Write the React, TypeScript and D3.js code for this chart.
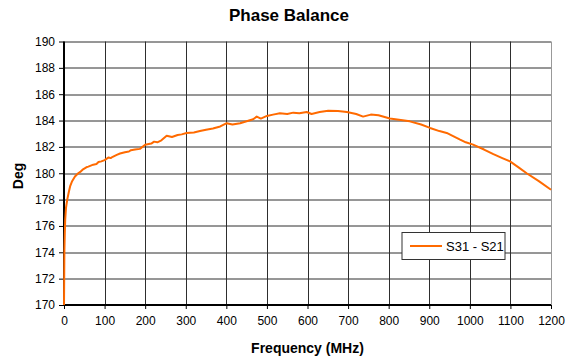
import React, { useRef, useEffect } from 'react';
import * as d3 from 'd3';

// frequency (MHz) and phase difference (deg)
const freqs = [0, 1, 2, 3, 5, 8, 12, 15, 20, 27, 35, 40, 47, 55, 60, 72, 80, 85, 92, 100, 110, 115, 120, 130, 138, 150, 160, 165, 175, 187, 200, 215, 222, 230, 240, 253, 266, 280, 290, 302, 320, 335, 350, 367, 385, 401, 415, 434, 450, 466, 475, 485, 500, 515, 532, 550, 565, 580, 598, 610, 630, 651, 675, 697, 720, 737, 756, 775, 803, 830, 852, 880, 902, 925, 943, 960, 976, 990, 1008, 1035, 1058, 1080, 1099, 1120, 1140, 1170, 1200];
const phase = [170, 174.2, 175.5, 176.5, 177.4, 178.0, 178.6, 179.0, 179.4, 179.75, 180.0, 180.1, 180.3, 180.45, 180.5, 180.65, 180.7, 180.85, 180.9, 181.0, 181.2, 181.15, 181.25, 181.4, 181.5, 181.6, 181.65, 181.75, 181.8, 181.85, 182.17, 182.25, 182.4, 182.35, 182.5, 182.85, 182.75, 182.9, 182.95, 183.05, 183.1, 183.2, 183.3, 183.4, 183.55, 183.8, 183.7, 183.8, 183.95, 184.1, 184.3, 184.15, 184.35, 184.45, 184.55, 184.5, 184.6, 184.55, 184.65, 184.5, 184.65, 184.75, 184.72, 184.65, 184.5, 184.3, 184.45, 184.4, 184.15, 184.05, 183.94, 183.7, 183.44, 183.2, 183.06, 182.8, 182.55, 182.35, 182.17, 181.8, 181.45, 181.15, 180.9, 180.45, 180.0, 179.4, 178.75];

const xTicks = [0, 100, 200, 300, 400, 500, 600, 700, 800, 900, 1000, 1100, 1200];
const yTicks = [170, 172, 174, 176, 178, 180, 182, 184, 186, 188, 190];
const seriesName = 'S31 - S21';

const W = 579;
const H = 364;
const margin = { top: 41.5, right: 28, bottom: 59, left: 64 };
const orange = '#ff6a00';
const font = '"Liberation Sans", Arial, sans-serif';

export default function App() {
  const svgRef = useRef<SVGSVGElement>(null);

  useEffect(() => {
    document.body.style.margin = '0';
    if (!svgRef.current) return;
    const svg = d3.select(svgRef.current);
    svg.selectAll('*').remove();

    const innerW = W - margin.left - margin.right;
    const innerH = H - margin.top - margin.bottom;

    const x = d3.scaleLinear().domain([0, 1200]).range([0, innerW]);
    const y = d3.scaleLinear().domain([170, 190]).range([innerH, 0]);

    svg.append('rect').attr('width', W).attr('height', H).attr('fill', '#fff');

    const g = svg.append('g').attr('transform', `translate(${margin.left},${margin.top})`);

    // grid
    g.append('g')
      .selectAll('line')
      .data(yTicks.slice(1))
      .enter()
      .append('line')
      .attr('x1', 0)
      .attr('x2', innerW)
      .attr('y1', d => Math.round(y(d)) + 0.5)
      .attr('y2', d => Math.round(y(d)) + 0.5)
      .attr('stroke', '#2e2e2e')
      .attr('stroke-width', 1);

    g.append('g')
      .selectAll('line')
      .data(xTicks.slice(1, -1))
      .enter()
      .append('line')
      .attr('x1', d => Math.round(x(d)) + 0.5)
      .attr('x2', d => Math.round(x(d)) + 0.5)
      .attr('y1', 0)
      .attr('y2', innerH)
      .attr('stroke', '#2e2e2e')
      .attr('stroke-width', 1);

    // right border
    g.append('line')
      .attr('x1', Math.round(innerW) + 0.5)
      .attr('x2', Math.round(innerW) + 0.5)
      .attr('y1', 0)
      .attr('y2', innerH)
      .attr('stroke', '#999')
      .attr('stroke-width', 1);

    // axes
    const yAxis = d3.axisLeft(y).tickValues(yTicks).tickSize(5).tickPadding(4).tickFormat(d => `${d}`);
    const xAxis = d3.axisBottom(x).tickValues(xTicks).tickSize(4).tickPadding(7).tickFormat(d => `${d}`);

    const ya = g.append('g').call(yAxis);
    const xa = g.append('g').attr('transform', `translate(0,${innerH})`).call(xAxis);
    [ya, xa].forEach(a => {
      a.select('.domain').remove();
      a.selectAll('.tick line').attr('stroke', '#000').attr('stroke-width', 1);
      a.selectAll('.tick text').attr('fill', '#000').style('font-family', font).style('font-size', '12px');
    });

    g.append('line')
      .attr('x1', 0).attr('x2', 0).attr('y1', 0).attr('y2', innerH + 1)
      .attr('stroke', '#000').attr('stroke-width', 2);
    g.append('line')
      .attr('x1', -1).attr('x2', innerW).attr('y1', innerH).attr('y2', innerH)
      .attr('stroke', '#000').attr('stroke-width', 2);

    // series
    const line = d3.line<number>()
      .x((_, i) => x(freqs[i]))
      .y(d => y(d));

    g.append('path')
      .datum(phase)
      .attr('fill', 'none')
      .attr('stroke', orange)
      .attr('stroke-width', 2)
      .attr('stroke-linejoin', 'round')
      .attr('d', line);

    // legend
    const lg = svg.append('g').attr('transform', 'translate(402,232.5)');
    lg.append('rect')
      .attr('width', 103)
      .attr('height', 27)
      .attr('fill', '#fff')
      .attr('stroke', '#333')
      .attr('stroke-width', 1);
    lg.append('line')
      .attr('x1', 8).attr('x2', 40).attr('y1', 13.5).attr('y2', 13.5)
      .attr('stroke', orange).attr('stroke-width', 2);
    lg.append('text')
      .attr('x', 44).attr('y', 18.5)
      .style('font-family', font).style('font-size', '13px')
      .text(seriesName);

    // titles
    svg.append('text')
      .attr('x', 289).attr('y', 21)
      .attr('text-anchor', 'middle')
      .style('font-family', font).style('font-size', '17px').style('font-weight', 'bold')
      .text('Phase Balance');

    svg.append('text')
      .attr('x', margin.left + innerW / 2).attr('y', 353)
      .attr('text-anchor', 'middle')
      .style('font-family', font).style('font-size', '14px').style('font-weight', 'bold')
      .text('Frequency (MHz)');

    svg.append('text')
      .attr('transform', `translate(22.5,176) rotate(-90)`)
      .attr('text-anchor', 'middle')
      .style('font-family', font).style('font-size', '14px').style('font-weight', 'bold')
      .text('Deg');
  }, []);

  return <svg ref={svgRef} width={W} height={H} style={{ display: 'block' }} />;
}
